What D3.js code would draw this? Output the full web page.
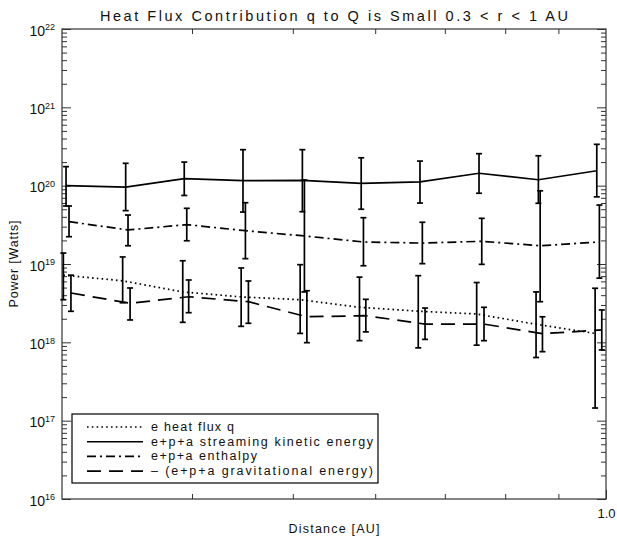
<!DOCTYPE html>
<html>
<head>
<meta charset="utf-8">
<script src="https://cdn.jsdelivr.net/npm/d3@7"></script>
<style>
body { margin: 0; background: #fff; }
text { font-family: "Liberation Sans", Arial, sans-serif; fill: #111; }
</style>
</head>
<body>
<div id="chart"></div>
<script>
// distances [AU] for each series (the series are drawn slightly offset)
var distHeat = [0.3009, 0.3431, 0.3919, 0.4460, 0.5082, 0.5795, 0.6600, 0.7511, 0.8566, 0.9762];
var distKin  = [0.3027, 0.3454, 0.3932, 0.4478, 0.5107, 0.5817, 0.6625, 0.7550, 0.8610, 0.9798];
var distEnth = [0.3047, 0.3472, 0.3954, 0.4502, 0.5130, 0.5846, 0.6660, 0.7596, 0.8644, 0.9855];
var distGrav = [0.3060, 0.3488, 0.3971, 0.4532, 0.5158, 0.5877, 0.6700, 0.7634, 0.8688, 0.9907];

// power [Watts], with upper and lower error values
var heatQ  = [7.2e18, 6.1e18, 4.4e18, 3.8e18, 3.5e18, 2.8e18, 2.5e18, 2.3e18, 1.7e18, 1.3e18];
var heatHi = [1.38e19, 1.23e19, 1.10e19, 8.9e18, 9.8e18, 6.8e18, 7.1e18, 5.8e18, 4.4e18, 4.9e18];
var heatLo = [3.5e18, 3.2e18, 1.8e18, 1.6e18, 1.3e18, 1.05e18, 8.5e17, 9.2e17, 6.4e17, 1.45e17];

var kinE  = [1.0e20, 9.6e19, 1.23e20, 1.16e20, 1.17e20, 1.07e20, 1.12e20, 1.44e20, 1.19e20, 1.55e20];
var kinHi = [1.75e20, 1.93e20, 2.0e20, 2.88e20, 2.88e20, 2.27e20, 2.06e20, 2.56e20, 2.41e20, 3.37e20];
var kinLo = [5.5e19, 4.8e19, 7.5e19, 4.6e19, 4.65e19, 5.0e19, 6.0e19, 8.0e19, 5.96e19, 7.2e19];

var enth   = [3.47e19, 2.72e19, 3.18e19, 2.66e19, 2.28e19, 1.91e19, 1.85e19, 1.95e19, 1.71e19, 1.91e19];
var enthHi = [5.5e19, 4.22e19, 5.14e19, 6.06e19, 1.18e20, 3.9e19, 3.41e19, 3.83e19, 8.6e19, 5.66e19];
var enthLo = [2.23e19, 1.71e19, 1.98e19, 1.17e19, 4.4e18, 9.5e18, 1.01e19, 9.9e18, 3.3e18, 6.6e18];

var grav   = [4.26e18, 3.15e18, 3.82e18, 3.30e18, 2.12e18, 2.19e18, 1.71e18, 1.71e18, 1.29e18, 1.44e18];
var gravHi = [7.2e18, 4.94e18, 6.25e18, 6.07e18, 4.56e18, 3.54e18, 2.74e18, 2.80e18, 2.12e18, 2.59e18];
var gravLo = [2.49e18, 1.93e18, 2.39e18, 1.75e18, 9.9e17, 1.36e18, 1.09e18, 1.05e18, 7.6e17, 8.0e17];

var legendLabels = ["e heat flux q", "e+p+a streaming kinetic energy", "e+p+a enthalpy", "\u2013 (e+p+a gravitational energy)"];
var yTickPowers = [16, 17, 18, 19, 20, 21, 22];
var xMinorTicks = [0.4, 0.5, 0.6, 0.7, 0.8, 0.9];
var xMajorTicks = [1.0];

var margin = {top: 29, right: 11, bottom: 40, left: 62},
    width = 617 - margin.left - margin.right,
    height = 539 - margin.top - margin.bottom;

var svg = d3.select("#chart")
    .append("svg")
    .attr("width", 617)
    .attr("height", 539)
    .append("g")
    .attr("transform", "translate(" + margin.left + "," + margin.top + ")");

var x = d3.scaleLog().domain([0.3, 1.0]).range([0, width]);
var y = d3.scaleLog().domain([1e16, 1e22]).range([height, 0]);

// minor y ticks: 2..9 in every decade
var yMinor = [];
for (var p = 16; p < 22; p++) {
    for (var m = 2; m <= 9; m++) yMinor.push(m * Math.pow(10, p));
}
var yMajor = yTickPowers.map(function(p) { return Math.pow(10, p); });

var axisColor = "#333";

function styleAxis(g) {
    g.select(".domain").remove();
    g.selectAll("line").attr("stroke", axisColor).attr("stroke-width", 1);
}

// left axis
svg.append("g")
    .call(d3.axisLeft(y).tickValues(yMinor).tickSize(-5).tickFormat(""))
    .call(styleAxis);
var yAxisG = svg.append("g")
    .call(d3.axisLeft(y).tickValues(yMajor).tickSize(-9).tickPadding(7))
    .call(styleAxis);
yAxisG.selectAll("text").each(function(d) {
    var t = d3.select(this);
    t.text("").attr("font-size", 14).attr("fill", "#111")
        .attr("font-family", "Liberation Sans, Arial, sans-serif")
        .attr("dy", "0.45em");
    t.append("tspan").text("10");
    t.append("tspan").text(Math.round(Math.log10(d)))
        .attr("font-size", 9).attr("dy", "-0.6em");
});

// right axis (mirrored ticks)
svg.append("g")
    .attr("transform", "translate(" + width + ",0)")
    .call(d3.axisRight(y).tickValues(yMinor).tickSize(-5).tickFormat(""))
    .call(styleAxis);
svg.append("g")
    .attr("transform", "translate(" + width + ",0)")
    .call(d3.axisRight(y).tickValues(yMajor).tickSize(-9).tickFormat(""))
    .call(styleAxis);

// bottom axis
svg.append("g")
    .attr("transform", "translate(0," + height + ")")
    .call(d3.axisBottom(x).tickValues(xMinorTicks).tickSize(-5).tickFormat(""))
    .call(styleAxis);
var xAxisG = svg.append("g")
    .attr("transform", "translate(0," + height + ")")
    .call(d3.axisBottom(x).tickValues(xMajorTicks).tickSize(-9).tickPadding(10).tickFormat(d3.format(".1f")))
    .call(styleAxis);
xAxisG.selectAll("text").attr("font-size", 13).attr("fill", "#111")
    .attr("font-family", "Liberation Sans, Arial, sans-serif");

// top axis
svg.append("g")
    .call(d3.axisTop(x).tickValues(xMinorTicks).tickSize(-5).tickFormat(""))
    .call(styleAxis);

// frame
svg.append("rect")
    .attr("width", width)
    .attr("height", height)
    .attr("fill", "none")
    .attr("stroke", axisColor)
    .attr("stroke-width", 1.2);

var series = [
    {r: distHeat, v: heatQ, hi: heatHi, lo: heatLo, dash: "1.6,3.2"},
    {r: distKin,  v: kinE,  hi: kinHi,  lo: kinLo,  dash: null},
    {r: distEnth, v: enth,  hi: enthHi, lo: enthLo, dash: "9,4,2,4"},
    {r: distGrav, v: grav,  hi: gravHi, lo: gravLo, dash: "14,8"}
];

var line = d3.line()
    .x(function(d) { return x(d.r); })
    .y(function(d) { return y(d.v); });

series.forEach(function(s) {
    var pts = s.r.map(function(r, i) { return {r: r, v: s.v[i], hi: s.hi[i], lo: s.lo[i]}; });

    svg.append("path")
        .datum(pts)
        .attr("d", line)
        .attr("fill", "none")
        .attr("stroke", "#000")
        .attr("stroke-width", 1.7)
        .attr("stroke-dasharray", s.dash);

    var bars = svg.append("g").selectAll("g")
        .data(pts)
        .enter()
        .append("g");
    bars.append("line")
        .attr("x1", function(d) { return x(d.r); })
        .attr("x2", function(d) { return x(d.r); })
        .attr("y1", function(d) { return y(d.hi); })
        .attr("y2", function(d) { return y(d.lo); })
        .attr("stroke", "#000").attr("stroke-width", 1.7);
    ["hi", "lo"].forEach(function(k) {
        bars.append("line")
            .attr("x1", function(d) { return x(d.r) - 3; })
            .attr("x2", function(d) { return x(d.r) + 3; })
            .attr("y1", function(d) { return y(d[k]); })
            .attr("y2", function(d) { return y(d[k]); })
            .attr("stroke", "#000").attr("stroke-width", 1.7);
    });
});

// legend
var legend = svg.append("g").attr("transform", "translate(10,385)");
legend.append("rect")
    .attr("width", 306)
    .attr("height", 69)
    .attr("fill", "#fff")
    .attr("stroke", "#000")
    .attr("stroke-width", 1.2);
var legendTextWidths = [83, 222, 106, 222];
series.forEach(function(s, i) {
    var ly = 13 + i * 14.7;
    legend.append("line")
        .attr("x1", 15).attr("x2", 71)
        .attr("y1", ly).attr("y2", ly)
        .attr("stroke", "#000").attr("stroke-width", 1.6)
        .attr("stroke-dasharray", s.dash);
    legend.append("text")
        .attr("x", 79)
        .attr("y", ly + 4)
        .attr("font-size", 12.5)
        .attr("textLength", legendTextWidths[i])
        .attr("lengthAdjust", "spacing")
        .text(legendLabels[i]);
});

// titles
svg.append("text")
    .attr("x", width / 2)
    .attr("y", -8)
    .attr("text-anchor", "middle")
    .attr("font-size", 14.5)
    .attr("textLength", 468)
    .attr("lengthAdjust", "spacing")
    .text("Heat Flux Contribution q to Q is Small 0.3 < r < 1 AU");

svg.append("text")
    .attr("text-anchor", "middle")
    .attr("transform", "translate(" + (-44) + "," + (height / 2) + ")rotate(-90)")
    .attr("font-size", 12.5)
    .attr("textLength", 87)
    .attr("lengthAdjust", "spacing")
    .text("Power [Watts]");

svg.append("text")
    .attr("text-anchor", "middle")
    .attr("x", width / 2)
    .attr("y", height + 34)
    .attr("font-size", 12.5)
    .attr("textLength", 91)
    .attr("lengthAdjust", "spacing")
    .text("Distance [AU]");
</script>
</body>
</html>
